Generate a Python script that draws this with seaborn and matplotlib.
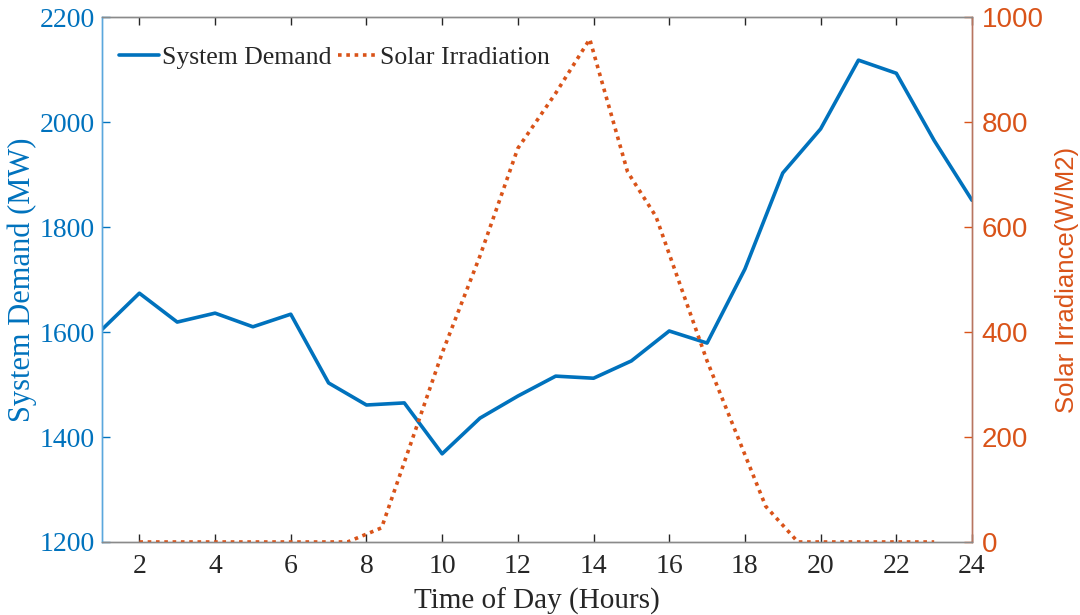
import numpy as np
import pandas as pd
import matplotlib
matplotlib.use("Agg")
import matplotlib.pyplot as plt
import seaborn as sns
from matplotlib.lines import Line2D

# ---- data ----
hours = list(range(1, 25))
demand_mw = [1604, 1674, 1619, 1636, 1610, 1634, 1503, 1461, 1465, 1368,
             1436, 1478, 1516, 1512, 1545, 1602, 1579, 1720, 1903, 1987,
             2118, 2093, 1965, 1851]

solar_hours = [2, 3, 4, 5, 6, 7, 7.5, 8.4, 10, 11, 12, 13, 13.9, 14.9,
               15.65, 17, 18.55, 19.4, 20, 21, 22, 23]
solar_wm2 = [0, 0, 0, 0, 0, 0, 0, 27, 360, 545, 750, 855, 958, 705,
             620, 345, 68, 0, 0, 0, 0, 0]

xticks = [2, 4, 6, 8, 10, 12, 14, 16, 18, 20, 22, 24]
left_ticks = [1200, 1400, 1600, 1800, 2000, 2200]
right_ticks = [0, 200, 400, 600, 800, 1000]

BLUE = "#0072BD"
ORANGE = "#D95319"
SERIF = "Liberation Serif"
SANS = "Liberation Sans"

sns.set_theme(style="white")
plt.rcParams["font.family"] = [SERIF, "DejaVu Serif"]

df_d = pd.DataFrame({"hour": hours, "demand": demand_mw})
df_s = pd.DataFrame({"hour": solar_hours, "solar": solar_wm2})

fig = plt.figure(figsize=(10.8, 6.15), dpi=100)
ax = fig.add_axes([0.094, 0.1187, 0.806, 0.8535])
ax2 = ax.twinx()

sns.lineplot(data=df_d, x="hour", y="demand", ax=ax, color=BLUE, lw=2.6,
             legend=False)
sns.lineplot(data=df_s, x="hour", y="solar", ax=ax2, color=ORANGE, lw=2.6,
             linestyle=(0, (1, 1.3)), legend=False)

ax.set_xlim(1, 24)
ax.set_ylim(1200, 2200)
ax2.set_ylim(0, 1000)
ax.set_xticks(xticks)
ax.set_yticks(left_ticks)
ax2.set_yticks(right_ticks)

ax.set_xticklabels([str(t) for t in xticks], fontsize=20, family=SERIF,
                   color="#262626")
ax.set_yticklabels([str(t) for t in left_ticks], fontsize=20, family=SERIF,
                   color=BLUE)
ax2.set_yticklabels([str(t) for t in right_ticks], fontsize=20, family=SANS,
                    color=ORANGE)

ax.tick_params(axis="x", direction="in", length=6, width=1, color="#262626",
               top=True, bottom=True, pad=9)
ax.tick_params(axis="y", direction="in", length=6, width=1, color=BLUE,
               left=True, right=False, pad=5)
ax2.tick_params(axis="y", direction="in", length=6, width=1, color=ORANGE,
                right=True, left=False, pad=7)

ax.set_xlabel("Time of Day (Hours)", fontsize=21, family=SERIF,
              color="#262626", labelpad=6)
ax.set_ylabel("System Demand (MW)", fontsize=22, family=SERIF, color=BLUE,
              labelpad=2)
ax2.set_ylabel("Solar Irradiance(W/M2)", fontsize=18.5, family=SANS,
               color=ORANGE, labelpad=8)

for a in (ax, ax2):
    for s in a.spines.values():
        s.set_linewidth(1.0)
    a.spines["top"].set_color("#8a8a8a")
    a.spines["bottom"].set_color("#8a8a8a")
    a.spines["left"].set_color("#5aa7dd")
    a.spines["right"].set_color("#b87560")
    a.grid(False)

handles = [Line2D([0], [0], color=BLUE, lw=2.6),
           Line2D([0], [0], color=ORANGE, lw=2.6, linestyle=(0, (1, 1.3)))]
ax.legend(handles, ["System Demand", "Solar Irradiation"], loc="upper left",
          ncol=2, frameon=False, handlelength=1.55, handletextpad=0.1,
          columnspacing=0.25, prop={"family": SERIF, "size": 18.5},
          bbox_to_anchor=(-0.003, 0.985), borderaxespad=0.4)

fig.savefig("out.png", dpi=100)
